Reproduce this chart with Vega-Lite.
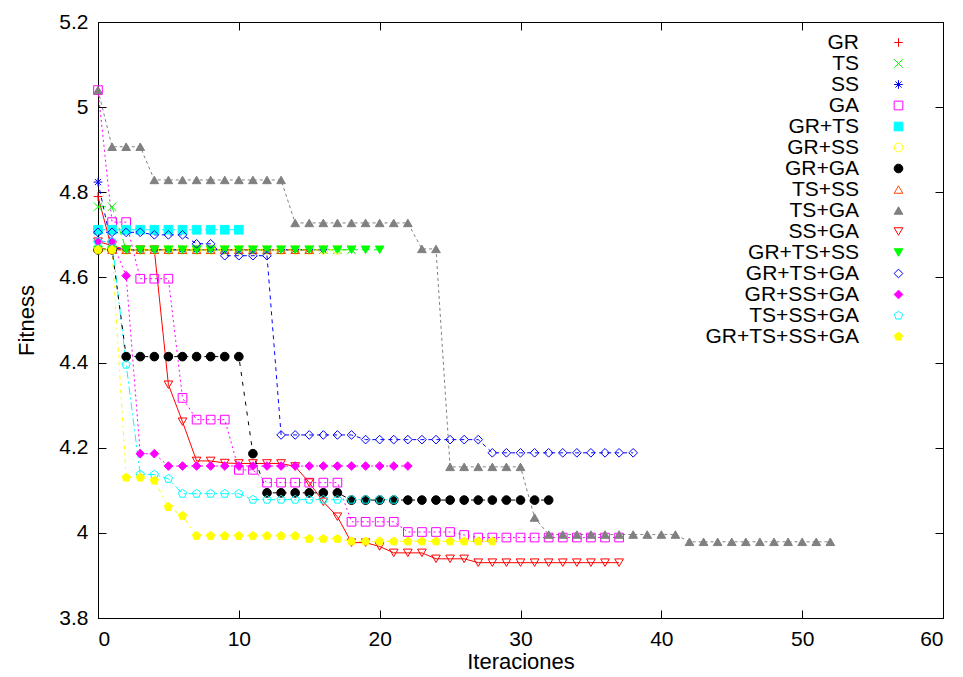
{
  "$schema": "https://vega.github.io/schema/vega-lite/v6.json",
  "width": 845,
  "height": 596,
  "autosize": {"type": "none"},
  "padding": {"left": 98, "top": 22, "right": 20, "bottom": 59},
  "background": "white",
  "config": {
    "font": "Liberation Sans",
    "view": {"stroke": "black", "strokeWidth": 1},
    "axis": {"grid": false, "domainColor": "black", "tickColor": "black", "labelColor": "black", "titleColor": "black", "labelFontSize": 21, "titleFontSize": 22, "titleFontWeight": "normal", "tickSize": -8, "labelPadding": 18}
  },
  "data": {"values": [
    {"s":"GR","x":0,"y":4.79},{"s":"GR","x":1,"y":4.665},{"s":"GR","x":2,"y":4.665},{"s":"GR","x":3,"y":4.665},{"s":"GR","x":4,"y":4.665},{"s":"GR","x":5,"y":4.665},{"s":"GR","x":6,"y":4.665},{"s":"GR","x":7,"y":4.665},{"s":"GR","x":8,"y":4.665},{"s":"GR","x":9,"y":4.665},{"s":"GR","x":10,"y":4.665},{"s":"GR","x":11,"y":4.665},{"s":"GR","x":12,"y":4.665},{"s":"GR","x":13,"y":4.665},{"s":"GR","x":14,"y":4.665},{"s":"GR","x":15,"y":4.665},{"s":"GR","x":16,"y":4.665},
    {"s":"TS","x":0,"y":4.766},{"s":"TS","x":1,"y":4.766},{"s":"TS","x":2,"y":4.665},{"s":"TS","x":3,"y":4.665},{"s":"TS","x":4,"y":4.665},{"s":"TS","x":5,"y":4.665},{"s":"TS","x":6,"y":4.665},{"s":"TS","x":7,"y":4.665},{"s":"TS","x":8,"y":4.665},{"s":"TS","x":9,"y":4.665},{"s":"TS","x":10,"y":4.665},{"s":"TS","x":11,"y":4.665},{"s":"TS","x":12,"y":4.665},{"s":"TS","x":13,"y":4.665},{"s":"TS","x":14,"y":4.665},{"s":"TS","x":15,"y":4.665},{"s":"TS","x":16,"y":4.665},{"s":"TS","x":17,"y":4.665},{"s":"TS","x":18,"y":4.665},
    {"s":"SS","x":0,"y":4.824},{"s":"SS","x":1,"y":4.67},{"s":"SS","x":2,"y":4.665},{"s":"SS","x":3,"y":4.665},{"s":"SS","x":4,"y":4.665},{"s":"SS","x":5,"y":4.665},{"s":"SS","x":6,"y":4.665},{"s":"SS","x":7,"y":4.665},{"s":"SS","x":8,"y":4.665},{"s":"SS","x":9,"y":4.665},{"s":"SS","x":10,"y":4.665},{"s":"SS","x":11,"y":4.665},{"s":"SS","x":12,"y":4.665},{"s":"SS","x":13,"y":4.665},{"s":"SS","x":14,"y":4.665},{"s":"SS","x":15,"y":4.665},{"s":"SS","x":16,"y":4.665},
    {"s":"GA","x":0,"y":5.04},{"s":"GA","x":1,"y":4.73},{"s":"GA","x":2,"y":4.73},{"s":"GA","x":3,"y":4.597},{"s":"GA","x":4,"y":4.597},{"s":"GA","x":5,"y":4.597},{"s":"GA","x":6,"y":4.317},{"s":"GA","x":7,"y":4.266},{"s":"GA","x":8,"y":4.266},{"s":"GA","x":9,"y":4.266},{"s":"GA","x":10,"y":4.148},{"s":"GA","x":11,"y":4.148},{"s":"GA","x":12,"y":4.118},{"s":"GA","x":13,"y":4.118},{"s":"GA","x":14,"y":4.118},{"s":"GA","x":15,"y":4.118},{"s":"GA","x":16,"y":4.118},{"s":"GA","x":17,"y":4.118},{"s":"GA","x":18,"y":4.026},{"s":"GA","x":19,"y":4.026},{"s":"GA","x":20,"y":4.026},{"s":"GA","x":21,"y":4.026},{"s":"GA","x":22,"y":4.002},{"s":"GA","x":23,"y":4.002},{"s":"GA","x":24,"y":4.002},{"s":"GA","x":25,"y":4.002},{"s":"GA","x":26,"y":3.995},{"s":"GA","x":27,"y":3.989},{"s":"GA","x":28,"y":3.989},{"s":"GA","x":29,"y":3.989},{"s":"GA","x":30,"y":3.989},{"s":"GA","x":31,"y":3.989},{"s":"GA","x":32,"y":3.989},{"s":"GA","x":33,"y":3.989},{"s":"GA","x":34,"y":3.989},{"s":"GA","x":35,"y":3.989},{"s":"GA","x":36,"y":3.989},{"s":"GA","x":37,"y":3.989},
    {"s":"GR+TS","x":0,"y":4.712},{"s":"GR+TS","x":1,"y":4.712},{"s":"GR+TS","x":2,"y":4.712},{"s":"GR+TS","x":3,"y":4.712},{"s":"GR+TS","x":4,"y":4.712},{"s":"GR+TS","x":5,"y":4.712},{"s":"GR+TS","x":6,"y":4.712},{"s":"GR+TS","x":7,"y":4.712},{"s":"GR+TS","x":8,"y":4.712},{"s":"GR+TS","x":9,"y":4.712},{"s":"GR+TS","x":10,"y":4.712},
    {"s":"GR+SS","x":0,"y":4.665},{"s":"GR+SS","x":1,"y":4.665},{"s":"GR+SS","x":2,"y":4.665},{"s":"GR+SS","x":3,"y":4.665},{"s":"GR+SS","x":4,"y":4.665},{"s":"GR+SS","x":5,"y":4.665},{"s":"GR+SS","x":6,"y":4.665},{"s":"GR+SS","x":7,"y":4.665},{"s":"GR+SS","x":8,"y":4.665},{"s":"GR+SS","x":9,"y":4.665},{"s":"GR+SS","x":10,"y":4.665},{"s":"GR+SS","x":11,"y":4.665},{"s":"GR+SS","x":12,"y":4.665},{"s":"GR+SS","x":13,"y":4.665},{"s":"GR+SS","x":14,"y":4.665},{"s":"GR+SS","x":15,"y":4.665},{"s":"GR+SS","x":16,"y":4.665},{"s":"GR+SS","x":17,"y":4.665},
    {"s":"GR+GA","x":0,"y":4.665},{"s":"GR+GA","x":1,"y":4.665},{"s":"GR+GA","x":2,"y":4.414},{"s":"GR+GA","x":3,"y":4.414},{"s":"GR+GA","x":4,"y":4.414},{"s":"GR+GA","x":5,"y":4.414},{"s":"GR+GA","x":6,"y":4.414},{"s":"GR+GA","x":7,"y":4.414},{"s":"GR+GA","x":8,"y":4.414},{"s":"GR+GA","x":9,"y":4.414},{"s":"GR+GA","x":10,"y":4.414},{"s":"GR+GA","x":11,"y":4.186},{"s":"GR+GA","x":12,"y":4.094},{"s":"GR+GA","x":13,"y":4.094},{"s":"GR+GA","x":14,"y":4.094},{"s":"GR+GA","x":15,"y":4.094},{"s":"GR+GA","x":16,"y":4.094},{"s":"GR+GA","x":17,"y":4.094},{"s":"GR+GA","x":18,"y":4.077},{"s":"GR+GA","x":19,"y":4.077},{"s":"GR+GA","x":20,"y":4.077},{"s":"GR+GA","x":21,"y":4.077},{"s":"GR+GA","x":22,"y":4.077},{"s":"GR+GA","x":23,"y":4.077},{"s":"GR+GA","x":24,"y":4.077},{"s":"GR+GA","x":25,"y":4.077},{"s":"GR+GA","x":26,"y":4.077},{"s":"GR+GA","x":27,"y":4.077},{"s":"GR+GA","x":28,"y":4.077},{"s":"GR+GA","x":29,"y":4.077},{"s":"GR+GA","x":30,"y":4.077},{"s":"GR+GA","x":31,"y":4.077},{"s":"GR+GA","x":32,"y":4.077},
    {"s":"TS+SS","x":0,"y":4.67},{"s":"TS+SS","x":1,"y":4.665},{"s":"TS+SS","x":2,"y":4.665},{"s":"TS+SS","x":3,"y":4.665},{"s":"TS+SS","x":4,"y":4.665},{"s":"TS+SS","x":5,"y":4.665},{"s":"TS+SS","x":6,"y":4.665},{"s":"TS+SS","x":7,"y":4.665},{"s":"TS+SS","x":8,"y":4.665},{"s":"TS+SS","x":9,"y":4.665},{"s":"TS+SS","x":10,"y":4.665},{"s":"TS+SS","x":11,"y":4.665},{"s":"TS+SS","x":12,"y":4.665},{"s":"TS+SS","x":13,"y":4.665},{"s":"TS+SS","x":14,"y":4.665},{"s":"TS+SS","x":15,"y":4.665},
    {"s":"TS+GA","x":0,"y":5.04},{"s":"TS+GA","x":1,"y":4.907},{"s":"TS+GA","x":2,"y":4.907},{"s":"TS+GA","x":3,"y":4.907},{"s":"TS+GA","x":4,"y":4.829},{"s":"TS+GA","x":5,"y":4.829},{"s":"TS+GA","x":6,"y":4.829},{"s":"TS+GA","x":7,"y":4.829},{"s":"TS+GA","x":8,"y":4.829},{"s":"TS+GA","x":9,"y":4.829},{"s":"TS+GA","x":10,"y":4.829},{"s":"TS+GA","x":11,"y":4.829},{"s":"TS+GA","x":12,"y":4.829},{"s":"TS+GA","x":13,"y":4.829},{"s":"TS+GA","x":14,"y":4.728},{"s":"TS+GA","x":15,"y":4.728},{"s":"TS+GA","x":16,"y":4.728},{"s":"TS+GA","x":17,"y":4.728},{"s":"TS+GA","x":18,"y":4.728},{"s":"TS+GA","x":19,"y":4.728},{"s":"TS+GA","x":20,"y":4.728},{"s":"TS+GA","x":21,"y":4.728},{"s":"TS+GA","x":22,"y":4.728},{"s":"TS+GA","x":23,"y":4.667},{"s":"TS+GA","x":24,"y":4.667},{"s":"TS+GA","x":25,"y":4.155},{"s":"TS+GA","x":26,"y":4.155},{"s":"TS+GA","x":27,"y":4.155},{"s":"TS+GA","x":28,"y":4.155},{"s":"TS+GA","x":29,"y":4.155},{"s":"TS+GA","x":30,"y":4.155},{"s":"TS+GA","x":31,"y":4.036},{"s":"TS+GA","x":32,"y":3.996},{"s":"TS+GA","x":33,"y":3.996},{"s":"TS+GA","x":34,"y":3.996},{"s":"TS+GA","x":35,"y":3.996},{"s":"TS+GA","x":36,"y":3.996},{"s":"TS+GA","x":37,"y":3.996},{"s":"TS+GA","x":38,"y":3.996},{"s":"TS+GA","x":39,"y":3.996},{"s":"TS+GA","x":40,"y":3.996},{"s":"TS+GA","x":41,"y":3.996},{"s":"TS+GA","x":42,"y":3.979},{"s":"TS+GA","x":43,"y":3.979},{"s":"TS+GA","x":44,"y":3.979},{"s":"TS+GA","x":45,"y":3.979},{"s":"TS+GA","x":46,"y":3.979},{"s":"TS+GA","x":47,"y":3.979},{"s":"TS+GA","x":48,"y":3.979},{"s":"TS+GA","x":49,"y":3.979},{"s":"TS+GA","x":50,"y":3.979},{"s":"TS+GA","x":51,"y":3.979},{"s":"TS+GA","x":52,"y":3.979},
    {"s":"SS+GA","x":0,"y":4.684},{"s":"SS+GA","x":1,"y":4.675},{"s":"SS+GA","x":2,"y":4.665},{"s":"SS+GA","x":3,"y":4.665},{"s":"SS+GA","x":4,"y":4.665},{"s":"SS+GA","x":5,"y":4.348},{"s":"SS+GA","x":6,"y":4.261},{"s":"SS+GA","x":7,"y":4.169},{"s":"SS+GA","x":8,"y":4.169},{"s":"SS+GA","x":9,"y":4.164},{"s":"SS+GA","x":10,"y":4.163},{"s":"SS+GA","x":11,"y":4.163},{"s":"SS+GA","x":12,"y":4.163},{"s":"SS+GA","x":13,"y":4.163},{"s":"SS+GA","x":14,"y":4.156},{"s":"SS+GA","x":15,"y":4.118},{"s":"SS+GA","x":16,"y":4.073},{"s":"SS+GA","x":17,"y":4.038},{"s":"SS+GA","x":18,"y":3.977},{"s":"SS+GA","x":19,"y":3.977},{"s":"SS+GA","x":20,"y":3.968},{"s":"SS+GA","x":21,"y":3.953},{"s":"SS+GA","x":22,"y":3.953},{"s":"SS+GA","x":23,"y":3.953},{"s":"SS+GA","x":24,"y":3.939},{"s":"SS+GA","x":25,"y":3.939},{"s":"SS+GA","x":26,"y":3.939},{"s":"SS+GA","x":27,"y":3.93},{"s":"SS+GA","x":28,"y":3.93},{"s":"SS+GA","x":29,"y":3.93},{"s":"SS+GA","x":30,"y":3.93},{"s":"SS+GA","x":31,"y":3.93},{"s":"SS+GA","x":32,"y":3.93},{"s":"SS+GA","x":33,"y":3.93},{"s":"SS+GA","x":34,"y":3.93},{"s":"SS+GA","x":35,"y":3.93},{"s":"SS+GA","x":36,"y":3.93},{"s":"SS+GA","x":37,"y":3.93},
    {"s":"GR+TS+SS","x":0,"y":4.665},{"s":"GR+TS+SS","x":1,"y":4.665},{"s":"GR+TS+SS","x":2,"y":4.665},{"s":"GR+TS+SS","x":3,"y":4.665},{"s":"GR+TS+SS","x":4,"y":4.665},{"s":"GR+TS+SS","x":5,"y":4.665},{"s":"GR+TS+SS","x":6,"y":4.665},{"s":"GR+TS+SS","x":7,"y":4.665},{"s":"GR+TS+SS","x":8,"y":4.665},{"s":"GR+TS+SS","x":9,"y":4.665},{"s":"GR+TS+SS","x":10,"y":4.665},{"s":"GR+TS+SS","x":11,"y":4.665},{"s":"GR+TS+SS","x":12,"y":4.665},{"s":"GR+TS+SS","x":13,"y":4.665},{"s":"GR+TS+SS","x":14,"y":4.665},{"s":"GR+TS+SS","x":15,"y":4.665},{"s":"GR+TS+SS","x":16,"y":4.665},{"s":"GR+TS+SS","x":17,"y":4.665},{"s":"GR+TS+SS","x":18,"y":4.665},{"s":"GR+TS+SS","x":19,"y":4.665},{"s":"GR+TS+SS","x":20,"y":4.665},
    {"s":"GR+TS+GA","x":0,"y":4.706},{"s":"GR+TS+GA","x":1,"y":4.706},{"s":"GR+TS+GA","x":2,"y":4.706},{"s":"GR+TS+GA","x":3,"y":4.706},{"s":"GR+TS+GA","x":4,"y":4.7},{"s":"GR+TS+GA","x":5,"y":4.7},{"s":"GR+TS+GA","x":6,"y":4.7},{"s":"GR+TS+GA","x":7,"y":4.679},{"s":"GR+TS+GA","x":8,"y":4.679},{"s":"GR+TS+GA","x":9,"y":4.651},{"s":"GR+TS+GA","x":10,"y":4.651},{"s":"GR+TS+GA","x":11,"y":4.651},{"s":"GR+TS+GA","x":12,"y":4.651},{"s":"GR+TS+GA","x":13,"y":4.23},{"s":"GR+TS+GA","x":14,"y":4.23},{"s":"GR+TS+GA","x":15,"y":4.23},{"s":"GR+TS+GA","x":16,"y":4.23},{"s":"GR+TS+GA","x":17,"y":4.23},{"s":"GR+TS+GA","x":18,"y":4.23},{"s":"GR+TS+GA","x":19,"y":4.219},{"s":"GR+TS+GA","x":20,"y":4.219},{"s":"GR+TS+GA","x":21,"y":4.219},{"s":"GR+TS+GA","x":22,"y":4.219},{"s":"GR+TS+GA","x":23,"y":4.219},{"s":"GR+TS+GA","x":24,"y":4.219},{"s":"GR+TS+GA","x":25,"y":4.219},{"s":"GR+TS+GA","x":26,"y":4.219},{"s":"GR+TS+GA","x":27,"y":4.219},{"s":"GR+TS+GA","x":28,"y":4.188},{"s":"GR+TS+GA","x":29,"y":4.188},{"s":"GR+TS+GA","x":30,"y":4.188},{"s":"GR+TS+GA","x":31,"y":4.188},{"s":"GR+TS+GA","x":32,"y":4.188},{"s":"GR+TS+GA","x":33,"y":4.188},{"s":"GR+TS+GA","x":34,"y":4.188},{"s":"GR+TS+GA","x":35,"y":4.188},{"s":"GR+TS+GA","x":36,"y":4.188},{"s":"GR+TS+GA","x":37,"y":4.188},{"s":"GR+TS+GA","x":38,"y":4.188},
    {"s":"GR+SS+GA","x":0,"y":4.684},{"s":"GR+SS+GA","x":1,"y":4.684},{"s":"GR+SS+GA","x":2,"y":4.604},{"s":"GR+SS+GA","x":3,"y":4.186},{"s":"GR+SS+GA","x":4,"y":4.186},{"s":"GR+SS+GA","x":5,"y":4.157},{"s":"GR+SS+GA","x":6,"y":4.157},{"s":"GR+SS+GA","x":7,"y":4.157},{"s":"GR+SS+GA","x":8,"y":4.157},{"s":"GR+SS+GA","x":9,"y":4.157},{"s":"GR+SS+GA","x":10,"y":4.157},{"s":"GR+SS+GA","x":11,"y":4.157},{"s":"GR+SS+GA","x":12,"y":4.157},{"s":"GR+SS+GA","x":13,"y":4.157},{"s":"GR+SS+GA","x":14,"y":4.157},{"s":"GR+SS+GA","x":15,"y":4.157},{"s":"GR+SS+GA","x":16,"y":4.157},{"s":"GR+SS+GA","x":17,"y":4.157},{"s":"GR+SS+GA","x":18,"y":4.157},{"s":"GR+SS+GA","x":19,"y":4.157},{"s":"GR+SS+GA","x":20,"y":4.157},{"s":"GR+SS+GA","x":21,"y":4.157},{"s":"GR+SS+GA","x":22,"y":4.157},
    {"s":"TS+SS+GA","x":0,"y":4.684},{"s":"TS+SS+GA","x":1,"y":4.684},{"s":"TS+SS+GA","x":2,"y":4.395},{"s":"TS+SS+GA","x":3,"y":4.137},{"s":"TS+SS+GA","x":4,"y":4.137},{"s":"TS+SS+GA","x":5,"y":4.127},{"s":"TS+SS+GA","x":6,"y":4.092},{"s":"TS+SS+GA","x":7,"y":4.092},{"s":"TS+SS+GA","x":8,"y":4.092},{"s":"TS+SS+GA","x":9,"y":4.092},{"s":"TS+SS+GA","x":10,"y":4.092},{"s":"TS+SS+GA","x":11,"y":4.078},{"s":"TS+SS+GA","x":12,"y":4.078},{"s":"TS+SS+GA","x":13,"y":4.078},{"s":"TS+SS+GA","x":14,"y":4.078},{"s":"TS+SS+GA","x":15,"y":4.078},{"s":"TS+SS+GA","x":16,"y":4.078},{"s":"TS+SS+GA","x":17,"y":4.078},{"s":"TS+SS+GA","x":18,"y":4.078},{"s":"TS+SS+GA","x":19,"y":4.078},{"s":"TS+SS+GA","x":20,"y":4.078},{"s":"TS+SS+GA","x":21,"y":4.078},
    {"s":"GR+TS+SS+GA","x":0,"y":4.665},{"s":"GR+TS+SS+GA","x":1,"y":4.665},{"s":"GR+TS+SS+GA","x":2,"y":4.13},{"s":"GR+TS+SS+GA","x":3,"y":4.13},{"s":"GR+TS+SS+GA","x":4,"y":4.123},{"s":"GR+TS+SS+GA","x":5,"y":4.061},{"s":"GR+TS+SS+GA","x":6,"y":4.04},{"s":"GR+TS+SS+GA","x":7,"y":3.993},{"s":"GR+TS+SS+GA","x":8,"y":3.993},{"s":"GR+TS+SS+GA","x":9,"y":3.993},{"s":"GR+TS+SS+GA","x":10,"y":3.993},{"s":"GR+TS+SS+GA","x":11,"y":3.993},{"s":"GR+TS+SS+GA","x":12,"y":3.993},{"s":"GR+TS+SS+GA","x":13,"y":3.993},{"s":"GR+TS+SS+GA","x":14,"y":3.993},{"s":"GR+TS+SS+GA","x":15,"y":3.986},{"s":"GR+TS+SS+GA","x":16,"y":3.986},{"s":"GR+TS+SS+GA","x":17,"y":3.986},{"s":"GR+TS+SS+GA","x":18,"y":3.98},{"s":"GR+TS+SS+GA","x":19,"y":3.98},{"s":"GR+TS+SS+GA","x":20,"y":3.98},{"s":"GR+TS+SS+GA","x":21,"y":3.98},{"s":"GR+TS+SS+GA","x":22,"y":3.98},{"s":"GR+TS+SS+GA","x":23,"y":3.98},{"s":"GR+TS+SS+GA","x":24,"y":3.98},{"s":"GR+TS+SS+GA","x":25,"y":3.98},{"s":"GR+TS+SS+GA","x":26,"y":3.98},{"s":"GR+TS+SS+GA","x":27,"y":3.98},{"s":"GR+TS+SS+GA","x":28,"y":3.98}
  ]},
  "resolve": {"axis": {"x": "independent", "y": "independent"}},
  "encoding": {
    "x": {"field": "x", "type": "quantitative", "scale": {"domain": [0, 60], "nice": false}, "axis": null},
    "y": {"field": "y", "type": "quantitative", "scale": {"domain": [3.8, 5.2], "nice": false, "zero": false}, "axis": null},
    "stroke": {"field": "s", "type": "nominal", "legend": {"title": null, "orient": "none", "legendX": 790, "legendY": 10, "labelFontSize": 21, "labelColor": "black", "labelAlign": "right", "labelOffset": -50, "rowPadding": -1.3, "symbolStrokeWidth": 1, "symbolSize": 75, "padding": 0, "labelLimit": 400}, "scale": {"domain": ["GR","TS","SS","GA","GR+TS","GR+SS","GR+GA","TS+SS","TS+GA","SS+GA","GR+TS+SS","GR+TS+GA","GR+SS+GA","TS+SS+GA","GR+TS+SS+GA"], "range": ["#ff0000","#00ff00","#0000ff","#ff00ff","#00ffff","#ffff00","#000000","#ff4500","#808080","#ff0000","#00ff00","#0000ff","#ff00ff","#00ffff","#ffff00"]}}
  },
  "layer": [
    {
      "transform": [{"filter": {"field": "s", "oneOf": ["GR", "SS+GA"]}}],
      "mark": {"type": "line", "strokeWidth": 1},
      "encoding": {
        "x": {"field": "x", "type": "quantitative", "scale": {"domain": [0, 60], "nice": false}, "axis": {"orient": "top", "title": null, "labels": false, "values": [0, 10, 20, 30, 40, 50, 60], "domain": false}},
        "y": {"field": "y", "type": "quantitative", "scale": {"domain": [3.8, 5.2], "nice": false, "zero": false}, "axis": {"orient": "right", "title": null, "labels": false, "values": [3.8, 4, 4.2, 4.4, 4.6, 4.8, 5, 5.2], "domain": false}},
        "detail": {"field": "s"}, "order": {"field": "x", "type": "quantitative"}
      }
    },
    {
      "transform": [{"filter": {"field": "s", "oneOf": ["TS", "GR+TS+SS"]}}],
      "mark": {"type": "line", "strokeWidth": 1, "strokeDash": [8, 4]},
      "encoding": {"detail": {"field": "s"}, "order": {"field": "x", "type": "quantitative"}}
    },
    {
      "transform": [{"filter": {"field": "s", "oneOf": ["SS", "GR+TS+GA"]}}],
      "mark": {"type": "line", "strokeWidth": 1, "strokeDash": [4, 4]},
      "encoding": {"detail": {"field": "s"}, "order": {"field": "x", "type": "quantitative"}}
    },
    {
      "transform": [{"filter": {"field": "s", "oneOf": ["GA", "GR+SS+GA"]}}],
      "mark": {"type": "line", "strokeWidth": 1, "strokeDash": [2, 3]},
      "encoding": {"detail": {"field": "s"}, "order": {"field": "x", "type": "quantitative"}}
    },
    {
      "transform": [{"filter": {"field": "s", "oneOf": ["GR+TS", "TS+SS+GA"]}}],
      "mark": {"type": "line", "strokeWidth": 1, "strokeDash": [8, 3, 2, 3]},
      "encoding": {"detail": {"field": "s"}, "order": {"field": "x", "type": "quantitative"}}
    },
    {
      "transform": [{"filter": {"field": "s", "oneOf": ["GR+SS", "GR+TS+SS+GA"]}}],
      "mark": {"type": "line", "strokeWidth": 1, "strokeDash": [4, 4, 2, 4]},
      "encoding": {"detail": {"field": "s"}, "order": {"field": "x", "type": "quantitative"}}
    },
    {
      "transform": [{"filter": {"field": "s", "oneOf": ["GR+GA"]}}],
      "mark": {"type": "line", "strokeWidth": 1, "strokeDash": [4, 6]},
      "encoding": {"detail": {"field": "s"}, "order": {"field": "x", "type": "quantitative"}}
    },
    {
      "transform": [{"filter": {"field": "s", "oneOf": ["TS+SS"]}}],
      "mark": {"type": "line", "strokeWidth": 1, "strokeDash": [8, 3, 2, 3, 2, 3]},
      "encoding": {"detail": {"field": "s"}, "order": {"field": "x", "type": "quantitative"}}
    },
    {
      "transform": [{"filter": {"field": "s", "oneOf": ["TS+GA"]}}],
      "mark": {"type": "line", "strokeWidth": 1, "strokeDash": [3, 3]},
      "encoding": {"detail": {"field": "s"}, "order": {"field": "x", "type": "quantitative"}}
    },
    {
      "mark": {"type": "point", "size": 75, "strokeWidth": 1, "opacity": 1},
      "encoding": {
        "x": {"field": "x", "type": "quantitative", "scale": {"domain": [0, 60], "nice": false}, "axis": {"title": "Iteraciones", "values": [0, 10, 20, 30, 40, 50, 60], "titlePadding": 2}},
        "y": {"field": "y", "type": "quantitative", "scale": {"domain": [3.8, 5.2], "nice": false, "zero": false}, "axis": {"title": "Fitness", "values": [3.8, 4, 4.2, 4.4, 4.6, 4.8, 5, 5.2], "format": "~g", "titlePadding": 20}},
        "fill": {"field": "s", "type": "nominal", "scale": {"domain": ["GR","TS","SS","GA","GR+TS","GR+SS","GR+GA","TS+SS","TS+GA","SS+GA","GR+TS+SS","GR+TS+GA","GR+SS+GA","TS+SS+GA","GR+TS+SS+GA"], "range": ["transparent","transparent","transparent","transparent","#00ffff","transparent","#000000","transparent","#808080","transparent","#00ff00","transparent","#ff00ff","transparent","#ffff00"]}},
        "shape": {"field": "s", "type": "nominal", "scale": {"domain": ["GR","TS","SS","GA","GR+TS","GR+SS","GR+GA","TS+SS","TS+GA","SS+GA","GR+TS+SS","GR+TS+GA","GR+SS+GA","TS+SS+GA","GR+TS+SS+GA"], "range": ["M-1,0H1M0,-1V1","M-1,-1L1,1M-1,1L1,-1","M-1,0H1M0,-1V1M-0.7,-0.7L0.7,0.7M-0.7,0.7L0.7,-0.7","square","square","circle","circle","triangle-up","triangle-up","triangle-down","triangle-down","diamond","diamond","M0,-1L0.951,-0.309L0.588,0.809L-0.588,0.809L-0.951,-0.309Z","M0,-1L0.951,-0.309L0.588,0.809L-0.588,0.809L-0.951,-0.309Z"]}}
      }
    }
  ]
}
